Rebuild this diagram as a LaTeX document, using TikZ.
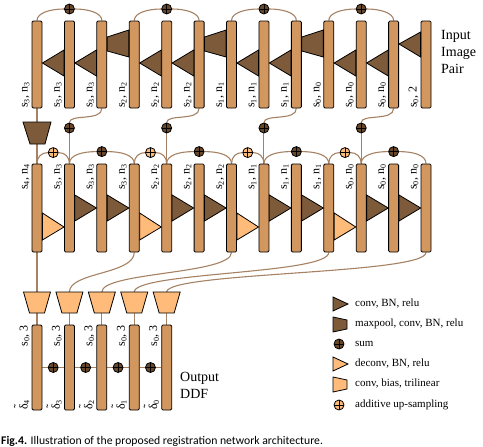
\documentclass[tikz,border=0pt]{standalone}
\usepackage{fontspec}
\setmainfont{Liberation Serif}
\newfontfamily\capfont{Carlito}
\usetikzlibrary{calc}
\definecolor{barc}{RGB}{210,150,95}
\definecolor{darkc}{RGB}{125,90,58}
\definecolor{lightc}{RGB}{255,187,122}
\definecolor{linec}{RGB}{165,130,100}
\definecolor{sumc}{RGB}{105,72,42}
\newcommand\tdelta{\leavevmode\vbox{\offinterlineskip\halign{\hfil##\hfil\cr\char"02DC\cr\noalign{\kern-0.55ex}δ\cr}}}
\pgfdeclarelayer{bg}
\pgfsetlayers{bg,main}
\tikzset{
  bar/.style={draw=black, line width=0.8pt, fill=barc, rounded corners=1.2pt, minimum width=10pt, inner sep=0pt},
  shpD/.style={draw=black, line width=0.8pt, fill=darkc},
  shpL/.style={draw=black, line width=0.8pt, fill=lightc},
  conn/.style={draw=linec, line width=1.1pt},
  plusc/.style={circle, draw=black, line width=0.8pt, minimum size=10pt, inner sep=0pt,
    path picture={\draw[black, line width=0.8pt] (path picture bounding box.north) -- (path picture bounding box.south) (path picture bounding box.west) -- (path picture bounding box.east);}},
  sumnode/.style={plusc, fill=sumc},
  addnode/.style={plusc, fill=lightc},
  lab/.style={rotate=90, inner sep=0.5pt, font=\fontsize{12}{12}\selectfont},
  legtext/.style={anchor=west, inner sep=0pt, font=\fontsize{11}{13}\selectfont},
  bigtext/.style={anchor=west, align=left, inner sep=0pt, font=\fontsize{14}{17}\selectfont}
}
\begin{document}
\begin{tikzpicture}[x=1pt,y=-1pt]
\useasboundingbox (0,0) rectangle (483,447);
% bars
\foreach \i in {1,...,13}{
  \pgfmathsetmacro\xx{37+(\i-1)*32.42}
  \node[bar, minimum height=87pt] (t\i) at (\xx,64.5) {};
  \node[bar, minimum height=88pt] (m\i) at (\xx,208) {};
}
\foreach \i in {1,...,5}{
  \pgfmathsetmacro\xx{37+(\i-1)*32.42}
  \node[bar, minimum height=85pt] (b\i) at (\xx,367.5) {};
  \coordinate (pT\i) at (\xx,292);
  \coordinate (pB\i) at (\xx,313);
  \draw[shpL] (\xx-13.5,292) -- (\xx+13.5,292) -- (\xx+7.5,313) -- (\xx-7.5,313) -- cycle;
}
% top row shapes (flow right to left)
\draw[shpD] (t13.west |- 0,32) -- (t13.west |- 0,57) -- (t12.east |- 0,44) -- cycle;
\foreach \i/\j in {1/2,2/3,4/5,5/6,7/8,8/9,10/11,11/12}{
  \draw[shpD] (t\j.west |- 0,50) -- (t\j.west |- 0,76) -- (t\i.east |- 0,63) -- cycle;
}
\foreach \i/\j in {3/4,6/7,9/10}{
  \draw[shpD] (t\j.west |- 0,30) -- (t\j.west |- 0,57) -- (t\i.east |- 0,51) -- (t\i.east |- 0,37) -- cycle;
}
% vertical maxpool
\coordinate (mpT) at (37,122);
\coordinate (mpB) at (37,144);
\draw[shpD] (23,122) -- (51,122) -- (45,144) -- (30,144) -- cycle;
% middle row shapes (flow left to right)
\foreach \i/\j in {1/2,4/5,7/8,10/11}{
  \draw[shpL] (m\i.east |- 0,213) -- (m\i.east |- 0,240) -- (m\j.west |- 0,227) -- cycle;
}
\foreach \i/\j in {2/3,3/4,5/6,6/7,8/9,9/10,11/12,12/13}{
  \draw[shpD] (m\i.east |- 0,195) -- (m\i.east |- 0,221) -- (m\j.west |- 0,208) -- cycle;
}
% sums and connectors
\foreach \a/\b/\c/\e [count=\k] in {1/2/3/4,4/5/6/7,7/8/9/10,10/11/12/13}{
  \node[sumnode] (s\k) at (t\b.north |- 0,9) {};
  \node[sumnode] (k\k) at (t\b.south |- 0,128) {};
  \node[addnode] (u\k) at ($(m\a.north)!0.5!(m\b.north)+(0,-11)$) {};
  \node[sumnode] (d\k) at ($(m\c.north)+(0,-12)$) {};
  \begin{pgfonlayer}{bg}
    \draw[conn] (t\a.north) .. controls +(0,-8) and +(-13,0) .. (s\k.west);
    \draw[conn] (s\k.east) .. controls +(13,0) and +(0,-8) .. (t\c.north);
    \draw[conn] (t\c.south) .. controls +(0,13) and +(0,-9) .. (k\k.north);
    \draw[conn] (k\k.south) -- (m\b.north);
    \draw[conn] (m\a.north) .. controls +(0,-7) and +(-6,0) .. (u\k.west);
    \draw[conn] (u\k.east) .. controls +(6,0) and +(0,-7) .. (m\b.north);
    \draw[conn] (m\b.north) .. controls +(0,-9) and +(-13,0) .. (d\k.west);
    \draw[conn] (d\k.east) .. controls +(13,0) and +(0,-9) .. (m\e.north);
  \end{pgfonlayer}
}
\foreach \i/\j in {1/2,2/3,3/4,4/5}{
  \node[sumnode] (c\i) at ($(b\i)!0.5!(b\j)$) {};
  \begin{pgfonlayer}{bg}
    \draw[conn] (b\i.east) -- (c\i.west);
    \draw[conn] (c\i.east) -- (b\j.west);
  \end{pgfonlayer}
}
\begin{pgfonlayer}{bg}
  \draw[conn] (t1.south) -- (mpT);
  \draw[conn] (mpB) -- (m1.north);
  \draw[conn] (m1.south) -- (pT1);
  \draw[conn] (m4.south) .. controls +(0,22) and +(0,-20) .. (pT2);
  \draw[conn] (m7.south) .. controls +(0,22) and +(0,-20) .. (pT3);
  \draw[conn] (m10.south) .. controls +(0,22) and +(0,-20) .. (pT4);
  \draw[conn] (m13.south) .. controls +(0,22) and +(0,-20) .. (pT5);
  \foreach \i in {1,...,5}{ \draw[conn] (pB\i) -- (b\i.north); }
\end{pgfonlayer}
% labels
\foreach \i/\s in {1/3,2/3,3/3,4/2,5/2,6/2,7/1,8/1,9/1,10/0,11/0,12/0}{
  \node[lab, anchor=south west] at ([xshift=-1.5pt]t\i.south west) {s\textsubscript{\s}, n\textsubscript{\s}};
}
\node[lab, anchor=south west] at ([xshift=-1.5pt]t13.south west) {s\textsubscript{0}, 2};
\foreach \i/\s in {1/4,2/3,3/3,4/3,5/2,6/2,7/2,8/1,9/1,10/1,11/0,12/0,13/0}{
  \node[lab, anchor=south east] at ([xshift=-1.5pt]m\i.north west) {s\textsubscript{\s}, n\textsubscript{\s}};
}
\foreach \i/\d in {1/4,2/3,3/2,4/1,5/0}{
  \node[lab, anchor=south east] at ([xshift=-1.5pt]b\i.north west) {s\textsubscript{0}, 3};
  \node[lab, anchor=south west] at ([xshift=-1.5pt]b\i.south west) {\tdelta\textsubscript{\d}};
}
\node[bigtext] (inp) at (441,52) {Input\\Image\\Pair};
\node[bigtext] (outp) at (180,385.5) {Output\\DDF};
% legend
\draw[shpD] (333,297) -- (333,311) -- (348,304) -- cycle;
\node[legtext] (l1) at (355,304) {conv, BN, relu};
\draw[shpD] (333,317) -- (347,320) -- (347,329) -- (333,332) -- cycle;
\node[legtext] (l2) at (355,324) {maxpool, conv, BN, relu};
\node[sumnode] (lc1) at (339,344) {};
\node[legtext] (l3) at (355,344) {sum};
\draw[shpL] (333,357) -- (333,371) -- (348,364) -- cycle;
\node[legtext] (l4) at (355,364) {deconv, BN, relu};
\draw[shpL] (333,377) -- (347,380) -- (347,389) -- (333,392) -- cycle;
\node[legtext] (l5) at (355,384) {conv, bias, trilinear};
\node[addnode] (lc2) at (339,405) {};
\node[legtext] (l6) at (355,405) {additive up-sampling};
% caption
\node[anchor=base west, inner sep=0pt, font=\capfont\fontsize{11.7}{13}\selectfont] (cap) at (1,444) {\textbf{Fig.4.} Illustration of the proposed registration network architecture.};
\end{tikzpicture}
\end{document}
